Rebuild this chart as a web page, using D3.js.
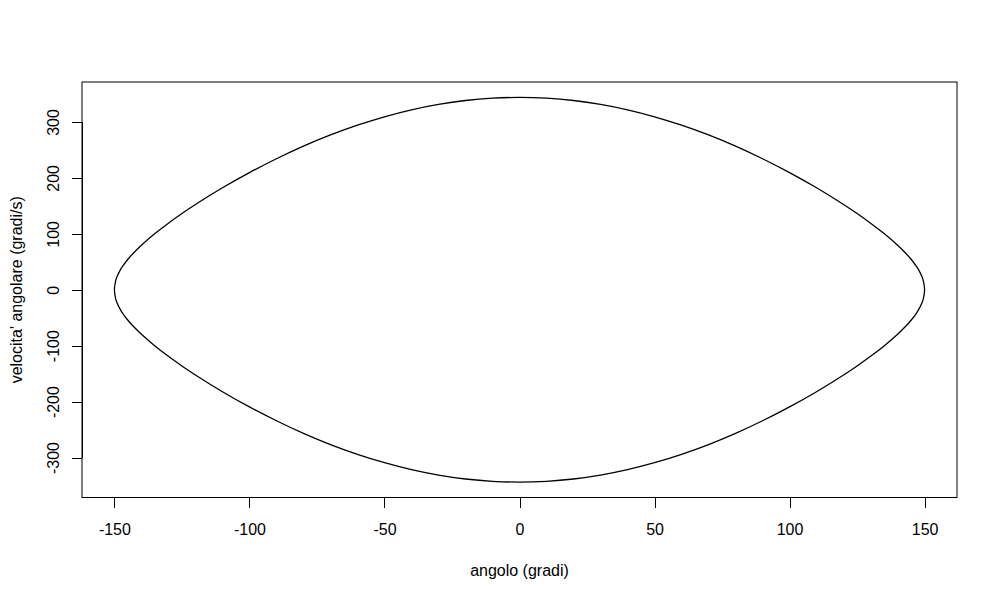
<!DOCTYPE html>
<html>
<head>
<meta charset="utf-8">
<script src="https://cdn.jsdelivr.net/npm/d3@7"></script>
<style>
  html, body { margin: 0; padding: 0; background: #fff; }
  svg { display: block; }
  text { font-family: "Liberation Sans", Arial, sans-serif; font-size: 16px; fill: #000; }
</style>
</head>
<body>
<svg id="chart" width="1000" height="600"></svg>
<script>
// Upper branch (angle increasing, positive angular velocity)
const angleTop = [-150,-149.5,-149,-148,-147,-145,-143,-140,-135,-130,-125,-120,-110,-100,-90,-80,-70,-60,-50,-40,-30,-20,-10,0,10,20,30,40,50,60,70,80,90,100,110,120,125,130,135,140,143,145,147,148,149,149.5,150];
const velocityTop = [0,16.6,23.7,33.8,41.6,54.5,65.4,79.6,100.4,119.0,136.2,152.4,182.3,209.5,234.3,256.8,276.8,294.3,309.3,321.7,331.4,338.4,342.6,344,342.6,338.4,331.4,321.7,309.3,294.3,276.8,256.8,234.3,209.5,182.3,152.4,136.2,119.0,100.4,79.6,65.4,54.5,41.6,33.8,23.7,16.6,0];
// Lower branch (angle decreasing, negative angular velocity)
const angleBottom = [149.5,149,148,147,145,143,140,135,130,125,120,110,100,90,80,70,60,50,40,30,20,10,0,-10,-20,-30,-40,-50,-60,-70,-80,-90,-100,-110,-120,-125,-130,-135,-140,-143,-145,-147,-148,-149,-149.5];
const velocityBottom = [-16.6,-23.7,-33.8,-41.6,-54.5,-65.4,-79.6,-100.4,-119.0,-136.2,-152.4,-182.3,-209.5,-234.3,-256.8,-276.8,-294.3,-309.3,-321.7,-331.4,-338.4,-342.6,-344,-342.6,-338.4,-331.4,-321.7,-309.3,-294.3,-276.8,-256.8,-234.3,-209.5,-182.3,-152.4,-136.2,-119.0,-100.4,-79.6,-65.4,-54.5,-41.6,-33.8,-23.7,-16.6];

const xTicks = [-150,-100,-50,0,50,100,150];
const yTicks = [-300,-200,-100,0,100,200,300];
const xLabel = "angolo (gradi)";
const yLabel = "velocita' angolare (gradi/s)";

const points = angleTop.map((a,i)=>[a, velocityTop[i]])
  .concat(angleBottom.map((a,i)=>[a, velocityBottom[i]]));

const svg = d3.select("#chart");
const pL = 82, pR = 957, pT = 82, pB = 497.5;

function rDomain(vals){
  const [lo, hi] = d3.extent(vals);
  const pad = (hi - lo) * 0.04;
  return [lo - pad, hi + pad];
}
const x = d3.scaleLinear().domain(rDomain(points.map(p=>p[0]))).range([pL, pR]);
const y = d3.scaleLinear().domain(rDomain(points.map(p=>p[1]))).range([pB, pT]);

// curve
const line = d3.line().x(d=>x(d[0])).y(d=>y(d[1])).curve(d3.curveCatmullRomClosed.alpha(0.5));
svg.append("path").datum(points).attr("d", line)
  .attr("fill","none").attr("stroke","#000").attr("stroke-width",1.3);

// box
svg.append("rect").attr("x",pL).attr("y",pT).attr("width",pR-pL).attr("height",pB-pT)
  .attr("fill","none").attr("stroke","#000").attr("stroke-width",1);

const fmt = d => d < 0 ? "-" + Math.abs(d) : String(d);
const ff = '"Liberation Sans", Arial, sans-serif';

// x axis
const xAxis = d3.axisBottom(x).tickValues(xTicks).tickSize(10).tickPadding(16).tickFormat(fmt);
const gx = svg.append("g").attr("transform",`translate(0,${pB})`).call(xAxis);
gx.select(".domain").attr("d", `M${x(xTicks[0])},0H${x(xTicks[xTicks.length-1])}`);
gx.selectAll("text").style("font-size","16px").style("font-family",ff).attr("fill","#000");

// y axis
const yAxis = d3.axisLeft(y).tickValues(yTicks).tickSize(10).tickPadding(0).tickFormat(fmt);
const gy = svg.append("g").attr("transform",`translate(${pL},0)`).call(yAxis);
gy.select(".domain").attr("d", `M0,${y(yTicks[0])}V${y(yTicks[yTicks.length-1])}`);
gy.selectAll(".tick text").attr("x",0).attr("dy",null)
  .attr("transform","translate(-29,0) rotate(-90)")
  .attr("text-anchor","middle").attr("dominant-baseline","central")
  .style("font-size","16px").style("font-family",ff).attr("fill","#000");
svg.selectAll(".domain, .tick line").attr("stroke","#000").attr("shape-rendering","crispEdges");

// titles
svg.append("text").attr("x",(pL+pR)/2).attr("y",576).attr("text-anchor","middle").text(xLabel);
svg.append("text").attr("transform",`translate(22,${(pT+pB)/2}) rotate(-90)`)
  .attr("text-anchor","middle").text(yLabel);
</script>
</body>
</html>
